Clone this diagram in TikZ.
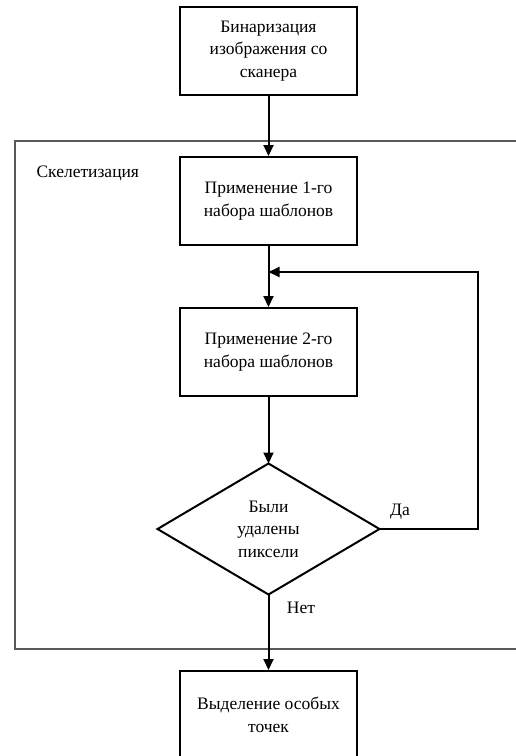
\documentclass[tikz,border=0pt]{standalone}
\usepackage{fontspec}
\setmainfont{Liberation Serif}
\usetikzlibrary{shapes.geometric,arrows.meta}
\begin{document}
\begin{tikzpicture}[x=1pt,y=-1pt,
  txt/.style={font=\fontsize{17.5}{22.5}\selectfont, align=center},
  procbox/.style={txt, draw=black, line width=2pt, minimum width=177pt, minimum height=88pt, inner sep=0pt},
  decision/.style={txt, diamond, minimum width=222pt, minimum height=131pt, inner sep=0pt, aspect=1.7},
  conn/.style={draw=black, line width=2pt},
  arr/.style={conn, -{Triangle[length=11pt,width=10pt]}},
  frame/.style={draw=black!65, line width=2.2pt}]
\useasboundingbox (0,0) rectangle (516,756);
\clip (0,0) rectangle (516,756);
\node[frame, minimum width=520pt, minimum height=508pt, anchor=north west, inner sep=0pt] (skel) at (14,140) {};
\node[txt, anchor=west] (skellabel) at (33,173) {Скелетизация};
\node[procbox] (bin) at (268.5,51) {Бинаризация\\изображения со\\сканера};
\node[procbox] (p1) at (268.5,201) {Применение 1-го\\набора шаблонов};
\node[procbox] (p2) at (268.5,352) {Применение 2-го\\набора шаблонов};
\node[decision] (dec) at (268.5,529) {Были\\удалены\\пиксели};
\draw[conn] (157.5,529) coordinate (decw) -- (268.5,463.5) coordinate (decn) -- (379.5,529) coordinate (dece) -- (268.5,594.5) coordinate (decs) -- cycle;
\node[procbox] (out) at (268.5,715) {Выделение особых\\точек};
\coordinate (join) at (268.5,272);
\coordinate (loopc) at (478,529);
\draw[arr] (bin.south) -- (p1.north);
\draw[conn] (p1.south) -- (join);
\draw[arr] (join) -- (p2.north);
\draw[arr] (p2.south) -- (decn);
\draw[arr] (dece) -- (loopc) |- (join);
\draw[arr] (decs) -- (out.north);
\node[txt] (yes) at (400,512) {Да};
\node[txt] (no) at (301,608) {Нет};
\end{tikzpicture}
\end{document}
